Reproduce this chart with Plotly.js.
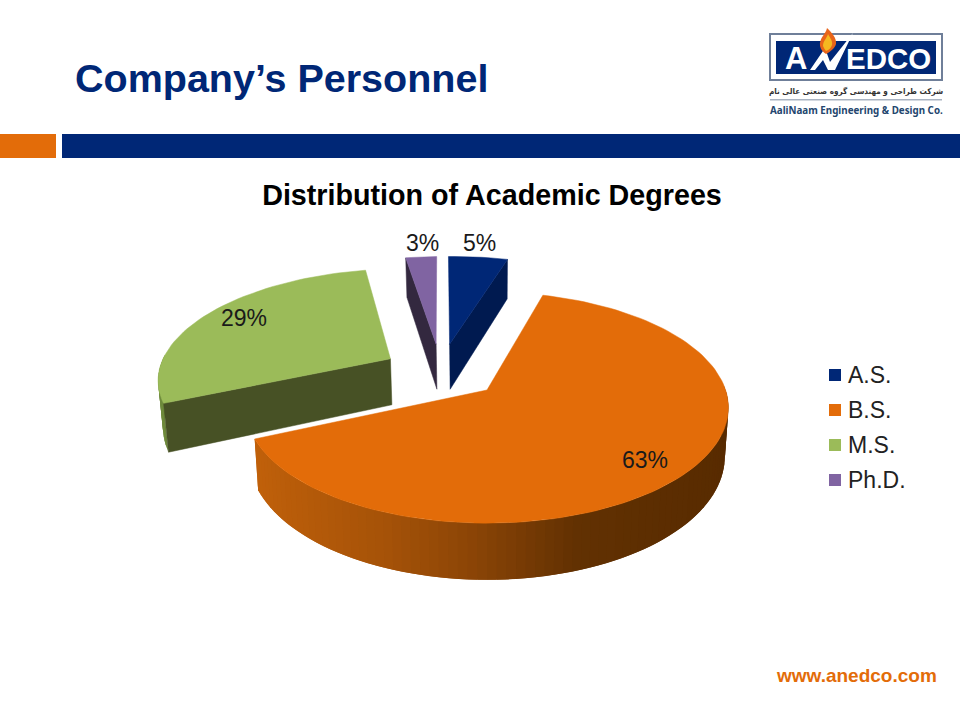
<!DOCTYPE html>
<html><head><meta charset="utf-8">
<script src="https://cdn.plot.ly/plotly-3.0.1.min.js"></script>
<style>html,body{margin:0;padding:0;background:#fff}#c{width:960px;height:720px}</style>
</head><body><div id="c"></div>
<script>
// ---- data ----
const categories = ['A.S.', 'B.S.', 'M.S.', 'Ph.D.'];
const sliceShares = [4.8, 64, 28.7, 2.5];          // shares
const percentLabels = ['5%', '63%', '29%', '3%'];  // labels as printed
const topColors = ['#002776', '#E36C09', '#9BBB59', '#8064A2'];
const wallColors = ['#001A50', '#5A2C00', '#475125', '#33283F'];
const sliceTitle = 'Distribution of Academic Degrees';
const slideTitle = 'Company\u2019s Personnel';
const website = 'www.anedco.com';

// ---- perspective model of a tilted, exploded disc ----
const OX = 487, OY = 390, R = 241, S = 114, K = 0.154, DEPTH = 48, SHRINK = 0.985, EXPLODE = 0.26, START = -1.7;
const EXPLODE_BY_SLICE = [0.26, 0, 0.25, 0.26], RADIUS_BY_SLICE = [1, 0.99, 0.985, 1];
const MAIN = 1; // slice whose apex sits on the origin
const total = sliceShares.reduce((a, b) => a + b, 0);
function rad(d) { return d * Math.PI / 180; }
let acc = 0;
const slices = sliceShares.map((p, i) => {
  const a0 = START + acc / total * 360; acc += p; const a1 = START + acc / total * 360;
  return { i, a0, a1, mid: (a0 + a1) / 2 };
});
const cu = -EXPLODE * Math.sin(rad(slices[MAIN].mid));
const cv = -EXPLODE * Math.cos(rad(slices[MAIN].mid));
function proj(u, v, low) {
  const w = 1 + K * v;
  let x = OX + R * u / w, y = OY - S * v / w;
  if (low) { x = OX + (x - OX) * SHRINK; y += DEPTH / w; }
  return [x, y];
}
function apex(s) {
  if (s.i === MAIN) return [0, 0];
  const e = EXPLODE_BY_SLICE[s.i];
  return [cu + e * Math.sin(rad(s.mid)), cv + e * Math.cos(rad(s.mid))];
}
function rim(s, a) { const c = apex(s), r = RADIUS_BY_SLICE[s.i]; return [c[0] + r * Math.sin(rad(a)), c[1] + r * Math.cos(rad(a))]; }
function arc(s, a0, a1, low) {
  const pts = [], n = Math.max(2, Math.ceil(Math.abs(a1 - a0) / 2));
  for (let j = 0; j <= n; j++) { const r = rim(s, a0 + (a1 - a0) * j / n); pts.push(proj(r[0], r[1], low)); }
  return pts;
}
function poly(pts, color, lw) {
  return { type: 'scatter', mode: 'lines', x: pts.map(p => p[0]).concat(pts[0][0]), y: pts.map(p => p[1]).concat(pts[0][1]),
    fill: 'toself', fillcolor: color, line: { color: color, width: lw === undefined ? 0.5 : lw }, showlegend: false, hoverinfo: 'skip' };
}
function wall(s, a, color) {
  const c = apex(s), r = rim(s, a);
  return poly([proj(c[0], c[1]), proj(r[0], r[1]), proj(r[0], r[1], true), proj(c[0], c[1], true)], color);
}
const gradStops = [[260, [192, 96, 10]], [400, [165, 82, 8]], [490, [138, 68, 6]], [590, [98, 49, 2]], [730, [88, 43, 0]]];
function gradColor(x) {
  for (let j = 1; j < gradStops.length; j++) {
    if (x <= gradStops[j][0]) {
      const t = Math.max(0, (x - gradStops[j - 1][0]) / (gradStops[j][0] - gradStops[j - 1][0]));
      const c = gradStops[j - 1][1].map((v, k) => Math.round(v + (gradStops[j][1][k] - v) * t));
      return 'rgb(' + c.join(',') + ')';
    }
  }
  return 'rgb(88,43,0)';
}
// strips painted in sequence; each overlaps the next so no seams appear
function outerWall(s, a0, a1, colorFn) {
  const out = []; const step = 2;
  for (let a = a0; a < a1; a += step) {
    const b = Math.min(a + step * 2, a1);
    const t = arc(s, a, b), l = arc(s, a, b, true);
    out.push(poly(t.concat(l.slice().reverse()), colorFn(t[0][0]), 0));
  }
  return out;
}
function topFace(s) {
  const c = apex(s);
  return poly([proj(c[0], c[1])].concat(arc(s, s.a0, s.a1)), topColors[s.i]);
}
const traces = [];
// back to front: A.S., Ph.D., M.S., B.S.
const [as, bs, ms, phd] = slices;
traces.push(wall(as, as.a1, wallColors[0]), topFace(as));
traces.push(wall(phd, phd.a0, wallColors[3]), topFace(phd));
traces.push(...outerWall(ms, ms.a0, 272, () => '#6E8A3C'), wall(ms, ms.a0, wallColors[2]), topFace(ms));
traces.push(...outerWall(bs, 88, bs.a1, gradColor).reverse(), topFace(bs));
// legend keys
const FF = 'Liberation Sans, Arial, sans-serif';
const keyY = [375, 410, 445, 480];
categories.forEach((c, i) => traces.push({ type: 'scatter', mode: 'markers', name: c, x: [835], y: [keyY[i]],
  marker: { symbol: 'square', size: 12, color: topColors[i] }, showlegend: false, hoverinfo: 'skip' }));

const labelAt = [[479, 243], [645, 460], [244, 318], [422, 243]];
const annotations = percentLabels.map((p, i) => ({ x: labelAt[i][0], y: labelAt[i][1], xref: 'x', yref: 'y', text: p, showarrow: false,
  font: { family: FF, size: 23, color: '#1a1a1a' } }));
function txt(t, x, y, size, color, bold, anchor, family) {
  annotations.push({ x, y, xref: 'x', yref: 'y', text: bold ? '<b>' + t + '</b>' : t, showarrow: false, xanchor: anchor || 'left',
    font: { family: family || FF, size, color } });
}
categories.forEach((c, i) => txt(c, 846, keyY[i], 23, '#222', false));
txt(slideTitle, 73, 78, 39.5, '#002776', true);
txt(website, 939, 675, 19, '#E36C09', true, 'right');
// logo
txt('A', 783, 58, 31, '#fff', true);
txt('EDCO', 844, 58, 29.5, '#fff', true);
txt('\u0634\u0631\u06A9\u062A \u0637\u0631\u0627\u062D\u06CC \u0648 \u0645\u0647\u0646\u062F\u0633\u06CC \u06AF\u0631\u0648\u0647 \u0635\u0646\u0639\u062A\u06CC \u0639\u0627\u0644\u06CC \u0646\u0627\u0645', 856, 91, 8.1, '#333', true, 'center', 'DejaVu Sans Condensed, DejaVu Sans, sans-serif');
txt('AaliNaam Engineering &amp; Design Co.', 856, 110, 9.8, '#24466E', true, 'center', 'Noto Sans, sans-serif');

function rect(x0, y0, x1, y1, fill, line) {
  return { type: 'rect', xref: 'x', yref: 'y', x0, y0, x1, y1, fillcolor: fill, line: line ? { color: line, width: 2 } : { width: 0 }, layer: 'below' };
}
function path(d, fill, layer) { return { type: 'path', xref: 'x', yref: 'y', path: d, fillcolor: fill, line: { width: 0 }, layer: layer || 'above' }; }
const shapes = [
  rect(0, 134, 56, 158, '#E36C09'), rect(62, 134, 960, 158, '#002776'),
  rect(770, 34, 942, 80, '#fff', '#6F7F99'), rect(776, 41, 936, 74, '#002776'),
  rect(770, 99, 942, 100.5, '#A9B3C2'),
  path('M 810 70 L 825 48 L 830 62 L 853 33 L 835 70 L 828 70 L 823 60 L 815 70 Z', '#FFFFFF'),
  path('M 820 46 C 819 38 826 34 827 28 C 831 32 837 38 836 44 C 835 48 830 52 826 54 C 823 52 821 50 820 46 Z', '#E8641A'),
  path('M 823 46 C 823 41 827 38 828 34 C 830 38 833 41 832 45 C 831 48 829 50 826 51 C 825 50 824 48 823 46 Z', '#F5B820')
];

const layout = {
  width: 960, height: 720, margin: { l: 0, r: 0, t: 0, b: 0 }, paper_bgcolor: '#fff', plot_bgcolor: '#fff',
  title: { text: '<b>' + sliceTitle + '</b>', x: 492 / 960, xanchor: 'center', y: 1 - 195 / 720, yanchor: 'middle', font: { family: FF, size: 28.7, color: '#000' } },
  xaxis: { range: [0, 960], visible: false, fixedrange: true },
  yaxis: { range: [720, 0], visible: false, fixedrange: true },
  showlegend: false,
  shapes, annotations
};
Plotly.newPlot('c', traces, layout, { displayModeBar: false, staticPlot: true });
</script></body></html>
